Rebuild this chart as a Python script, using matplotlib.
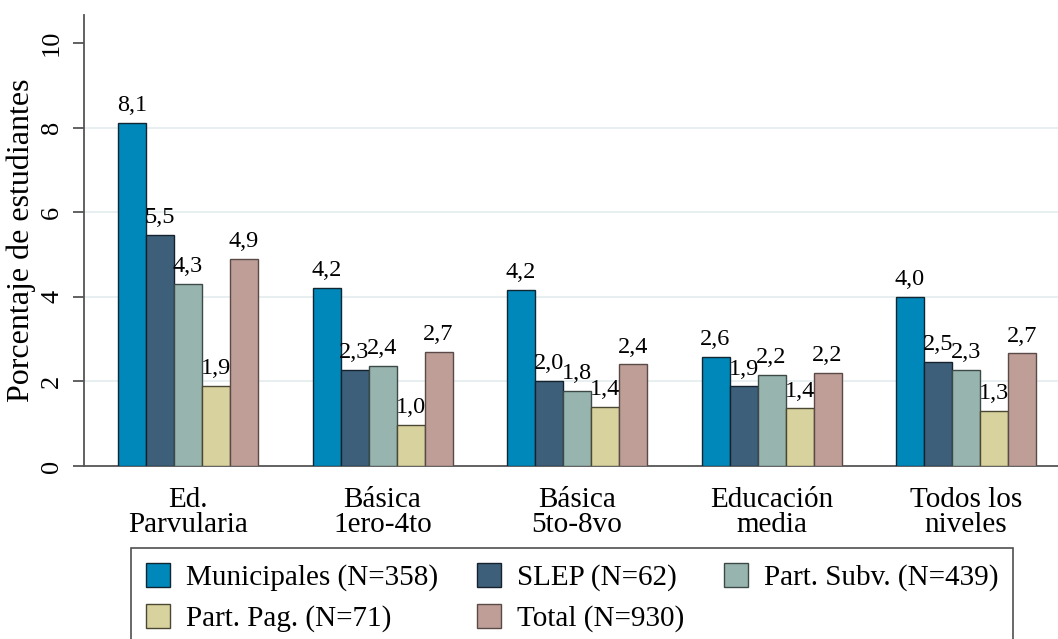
import numpy as np
import matplotlib
matplotlib.use("Agg")
import matplotlib.pyplot as plt

plt.rcParams['font.family'] = ['Liberation Serif', 'DejaVu Serif']

# datos
categorias = ["Ed.\nParvularia", "Básica\n1ero-4to", "Básica\n5to-8vo",
              "Educación\nmedia", "Todos los\nniveles"]
series = ["Municipales (N=358)", "SLEP (N=62)", "Part. Subv. (N=439)",
          "Part. Pag. (N=71)", "Total (N=930)"]
municipales = [8.10, 4.21, 4.16, 2.58, 4.00]
slep = [5.46, 2.26, 2.00, 1.88, 2.46]
part_subv = [4.30, 2.36, 1.78, 2.16, 2.27]
part_pag = [1.90, 0.96, 1.40, 1.36, 1.30]
total = [4.90, 2.70, 2.40, 2.20, 2.66]

colores = ["#0088bb", "#3d5f7a", "#98b4af", "#d8d29e", "#bf9e98"]
bordes = ["#102630", "#15222e", "#3c4947", "#4a4733", "#5a4a47"]

valores = [municipales, slep, part_subv, part_pag, total]

fig = plt.figure(figsize=(10.58, 6.39), dpi=100)
ax = fig.add_axes([84 / 1058, 1 - 466 / 639, 1 - 84 / 1058, (466 - 15) / 639])

x = np.arange(len(categorias))
ancho = 0.144
barras = []
for i, (vals, nombre) in enumerate(zip(valores, series)):
    b = ax.bar(x + (i - 2) * ancho, vals, ancho, color=colores[i],
               edgecolor=bordes[i], linewidth=1.0, label=nombre, zorder=3)
    ax.bar_label(b, labels=[f"{v:.1f}".replace(".", ",") for v in vals],
                 padding=5, fontsize=17.5, zorder=4)
    barras.append(b)

for yv in [2, 4, 6, 8]:
    ax.axhline(yv, color="#e6eef0", linewidth=1.3, zorder=1)

ax.set_xlim(-0.535, 4.473)
ax.set_ylim(0, 10.66)
ax.set_yticks([0, 2, 4, 6, 8, 10])
ax.set_yticklabels(["0", "2", "4", "6", "8", "10"], rotation=90, va="center",
                   fontsize=19)
ax.set_xticks(x)
ax.set_xticklabels(categorias, fontsize=21, linespacing=0.95)
ax.tick_params(axis="x", length=0, pad=15)
ax.tick_params(axis="y", length=8, width=1.3, color="#555555", pad=7)
ax.set_ylabel("Porcentaje de estudiantes", fontsize=23, labelpad=4)

for s in ["top", "right"]:
    ax.spines[s].set_visible(False)
for s in ["left", "bottom"]:
    ax.spines[s].set_color("#555555")
    ax.spines[s].set_linewidth(1.3)

# orden para que las filas queden como en el original
orden = [0, 3, 1, 4, 2]
leg = fig.legend([barras[k] for k in orden], [series[k] for k in orden],
                 ncol=3, loc="upper left",
                 bbox_to_anchor=(131 / 1058, 1 - 548 / 639),
                 fontsize=21, frameon=True, fancybox=False,
                 handlelength=0.82, handleheight=0.92, handletextpad=0.55,
                 columnspacing=1.35, labelspacing=0.42, borderpad=0.5,
                 borderaxespad=0)
leg.get_frame().set_edgecolor("#222222")
leg.get_frame().set_linewidth(1.2)

fig.savefig("out.png", dpi=100)
